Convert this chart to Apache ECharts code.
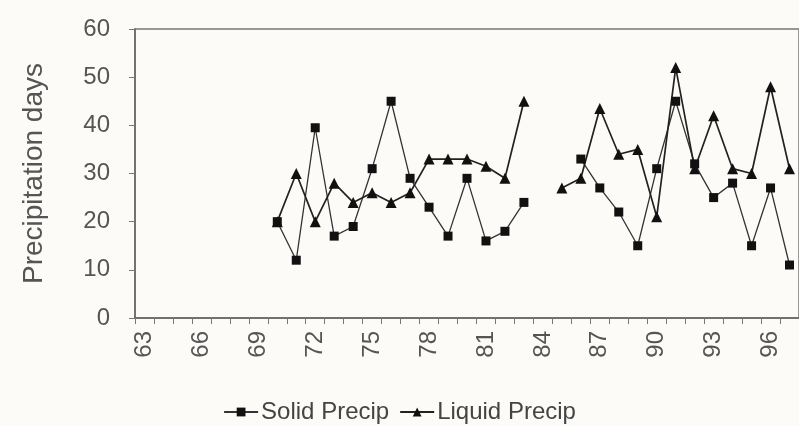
<!DOCTYPE html>
<html>
<head>
<meta charset="utf-8">
<script src="https://cdn.jsdelivr.net/npm/echarts@6/dist/echarts.min.js"></script>
<style>
html,body{margin:0;padding:0;background:#fcfbf8;}
#c{width:799px;height:426px;}
</style>
</head>
<body>
<div id="c"></div>
<script>
var years = ['63','64','65','66','67','68','69','70','71','72','73','74','75','76','77','78','79','80','81','82','83','84','85','86','87','88','89','90','91','92','93','94','95','96','97'];
var solidPrecip = [null,null,null,null,null,null,null,20,12,39.5,17,19,31,45,29,23,17,29,16,18,24,null,null,33,27,22,15,31,45,32,25,28,15,27,11];
var liquidPrecip = [null,null,null,null,null,null,null,20,30,20,28,24,26,24,26,33,33,33,31.5,29,45,null,27,29,43.5,34,35,21,52,31,42,31,30,48,31];
var yTicks = {min:0, max:60, interval:10};

var chart = echarts.init(document.getElementById('c'), null, {renderer:'canvas'});
var font = 'Liberation Sans, Arial, Helvetica, sans-serif';
chart.setOption({
  backgroundColor:'#fcfbf8',
  animation:false,
  grid:{left:135, top:29, right:-8, bottom:108, show:true, borderColor:'#777', borderWidth:1.5, backgroundColor:'transparent'},
  legend:{
    top:395, left:'center', itemWidth:34, itemHeight:11, itemGap:10,
    textStyle:{fontFamily:font, fontSize:24, color:'#444', padding:[0,0,0,-2]},
    data:['Solid Precip','Liquid Precip']
  },
  xAxis:{
    type:'category', data:years, boundaryGap:true,
    axisLine:{lineStyle:{color:'#666', width:1.5}},
    axisTick:{show:true, interval:0, length:6, lineStyle:{color:'#777'}},
    axisLabel:{interval:2, rotate:90, margin:13, fontFamily:font, fontSize:24, color:'#555'},
    splitLine:{show:false}
  },
  yAxis:{
    type:'value', min:yTicks.min, max:yTicks.max, interval:yTicks.interval,
    name:'Precipitation days', nameLocation:'middle', nameGap:87, nameRotate:90,
    nameTextStyle:{fontFamily:font, fontSize:28, color:'#555'},
    axisLine:{show:true, lineStyle:{color:'#666', width:1.5}},
    axisTick:{show:true, length:6, lineStyle:{color:'#777'}},
    axisLabel:{margin:25, fontFamily:font, fontSize:24, color:'#555'},
    splitLine:{show:false}
  },
  series:[
    {name:'Solid Precip', type:'line', data:solidPrecip, symbol:'rect', symbolSize:9,
     lineStyle:{color:'#333', width:1.3}, itemStyle:{color:'#111'}, connectNulls:false},
    {name:'Liquid Precip', type:'line', data:liquidPrecip, symbol:'triangle', symbolSize:11,
     lineStyle:{color:'#222', width:1.7}, itemStyle:{color:'#111'}, connectNulls:false}
  ]
});
</script>
</body>
</html>
